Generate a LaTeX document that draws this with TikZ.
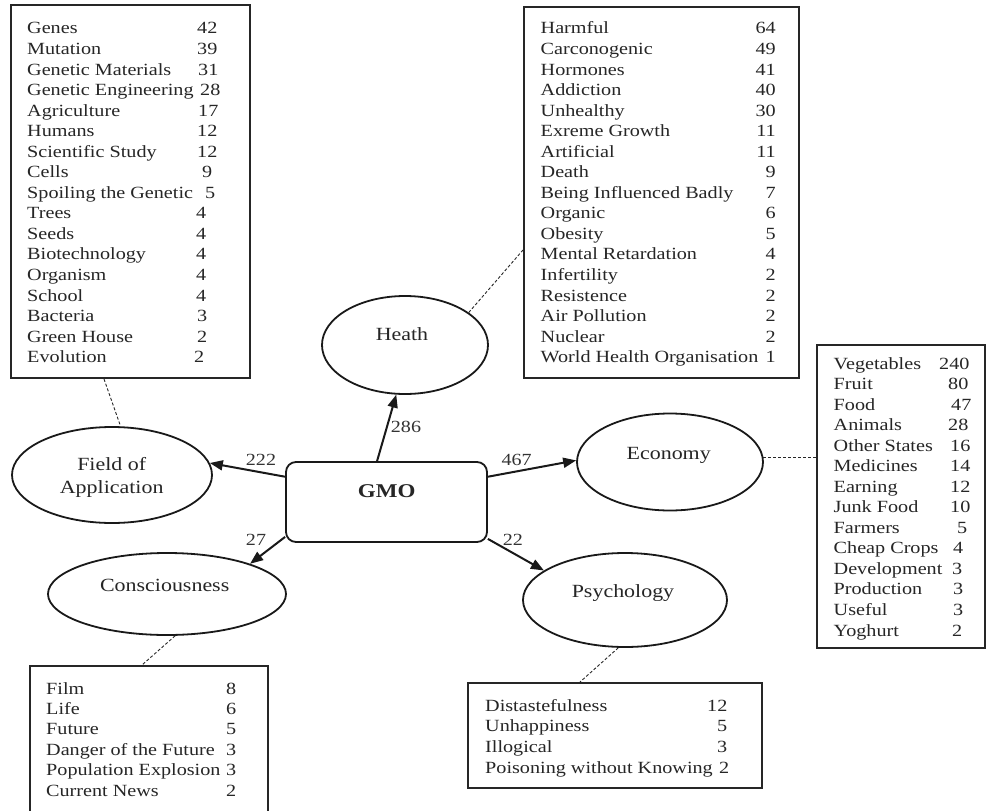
\documentclass[tikz,border=0pt]{standalone}
\usepackage{fontspec}
\setmainfont{Liberation Serif}[FakeStretch=1.18]
\usetikzlibrary{shapes.geometric,arrows.meta,calc}
\tikzset{
  boxframe/.style={draw=black!85, line width=2pt, inner sep=0pt, rectangle},
  ell/.style={ellipse, draw=black!90, line width=1.8pt, inner sep=0pt},
  gmobox/.style={rectangle, rounded corners=10pt, draw=black!90, line width=1.8pt, inner sep=0pt},
  listtxt/.style={anchor=base west, inner sep=0pt, text=black!85, font=\fontsize{17.1}{20}\selectfont},
  listnum/.style={anchor=base east, inner sep=0pt, text=black!85, font=\fontsize{17.1}{20}\selectfont},
  elltxt/.style={anchor=base, inner sep=0pt, text=black!85, font=\fontsize{18.6}{22}\selectfont},
  numlbl/.style={anchor=base, inner sep=0pt, text=black!80, font=\fontsize{17}{20}\selectfont},
  conn/.style={line width=2pt, draw=black!90, -{Triangle[length=13pt,width=10pt]}},
  dashconn/.style={line width=0.9pt, draw=black!85, dash pattern=on 3pt off 2pt}
}
\begin{document}
\begin{tikzpicture}[x=1pt,y=-1pt]
\useasboundingbox (0,0) rectangle (988,811);
\fill[white] (0,0) rectangle (988,811);

% list boxes
\node[boxframe, minimum width=239pt, minimum height=373pt] (b1) at (130.5,191.5) {};
\node[boxframe, minimum width=275pt, minimum height=371pt] (b2) at (661.5,192.5) {};
\node[boxframe, minimum width=168pt, minimum height=303pt] (b3) at (900.5,496.5) {};
\node[boxframe, minimum width=238pt, minimum height=164pt] (b4) at (149,748) {};
\node[boxframe, minimum width=294pt, minimum height=105pt] (b5) at (615,735.5) {};

% centre and categories
\node[gmobox, minimum width=201pt, minimum height=80pt] (gmo) at (386.5,502) {};
\node[anchor=base, inner sep=0pt, font=\fontsize{19.5}{22}\selectfont\bfseries, text=black!85] (gmot) at (386.7,497.5) {GMO};

\node[ell, minimum width=166pt, minimum height=98pt] (heath) at (405,345) {};
\node[ell, minimum width=200pt, minimum height=96pt] (field) at (112,475) {};
\node[ell, minimum width=186pt, minimum height=97pt] (eco) at (670,462) {};
\node[ell, minimum width=238pt, minimum height=82pt] (conc) at (167,594) {};
\node[ell, minimum width=204pt, minimum height=94pt] (psych) at (625,600) {};

\node[elltxt] (heatht) at (402,340) {Heath};
\node[elltxt] (fieldt1) at (111.7,470.7) {Field of};
\node[elltxt] (fieldt2) at (111.7,493) {Application};
\node[elltxt] (ecot) at (668.7,459) {Economy};
\node[elltxt] (conct) at (164.7,591) {Consciousness};
\node[elltxt] (psycht) at (623,597) {Psychology};

% arrows
\draw[conn] (gmo.166) -- (field.7);
\draw[conn] (gmo.103.4) -- (heath.260.7);
\draw[conn] (gmo.14.5) -- (eco.179);
\draw[conn] (gmo.199.7) -- (conc.20.9);
\draw[conn] (gmo.340.8) -- (psych.160.7);

\node[numlbl] (l222) at (261,465) {222};
\node[numlbl] (l286) at (406,432.7) {286};
\node[numlbl] (l467) at (516.7,465) {467};
\node[numlbl] (l27) at (256,545) {27};
\node[numlbl] (l22) at (512.8,545) {22};

% dashed links
\draw[dashconn] ([xshift=-26.5pt]b1.south) -- (field.80);
\draw[dashconn] (heath.27.6) -- ([yshift=-57.5pt]b2.west);
\draw[dashconn] (eco.3) -- (eco.3 -| b3.west);
\draw[dashconn] (conc.281) -- ([xshift=-7pt]b4.north);
\draw[dashconn] (psych.262) -- ([xshift=-35pt]b5.north);

% box 1 rows
\foreach \nm/\vl/\vx [count=\i from 0] in {Genes/42/197, Mutation/39/197, Genetic Materials/31/198, Genetic Engineering/28/200, Agriculture/17/198, Humans/12/197, Scientific Study/12/197, Cells/9/202, Spoiling the Genetic/5/205, Trees/4/196, Seeds/4/196, Biotechnology/4/196, Organism/4/196, School/4/196, Bacteria/3/197, Green House/2/197, Evolution/2/194}{
  \node[listtxt] (ra\i) at (27,{34+20.54*\i}) {\nm};
  \node[listtxt] (va\i) at (\vx,{34+20.54*\i}) {\vl};
}

% box 2 rows
\foreach \nm/\vl [count=\i from 0] in {Harmful/64, Carconogenic/49, Hormones/41, Addiction/40, Unhealthy/30, Exreme Growth/11, Artificial/11, Death/9, Being Influenced Badly/7, Organic/6, Obesity/5, Mental Retardation/4, Infertility/2, Resistence/2, Air Pollution/2, Nuclear/2, World Health Organisation/1}{
  \node[listtxt] (rb\i) at (540.5,{34+20.54*\i}) {\nm};
  \node[listnum] (vb\i) at (776,{34+20.54*\i}) {\vl};
}

% box 3 rows
\foreach \nm/\vl/\vx [count=\i from 0] in {Vegetables/240/939, Fruit/80/948, Food/47/951, Animals/28/948, Other States/16/950, Medicines/14/950, Earning/12/950, Junk Food/10/950, Farmers/5/957, Cheap Crops/4/953, Development/3/952, Production/3/953, Useful/3/953, Yoghurt/2/952}{
  \node[listtxt] (rc\i) at (833.5,{369+20.54*\i}) {\nm};
  \node[listtxt] (vc\i) at (\vx,{369+20.54*\i}) {\vl};
}

% box 4 rows
\foreach \nm/\vl [count=\i from 0] in {Film/8, Life/6, Future/5, Danger of the Future/3, Population Explosion/3, Current News/2}{
  \node[listtxt] (rd\i) at (46,{694+20.4*\i}) {\nm};
  \node[listtxt] (vd\i) at (226,{694+20.4*\i}) {\vl};
}

% box 5 rows
\foreach \nm/\vl/\vx [count=\i from 0] in {Distastefulness/12/707, Unhappiness/5/717, Illogical/3/717, Poisoning without Knowing/2/719}{
  \node[listtxt] (re\i) at (485,{711+20.7*\i}) {\nm};
  \node[listtxt] (ve\i) at (\vx,{711+20.7*\i}) {\vl};
}
\end{tikzpicture}
\end{document}
